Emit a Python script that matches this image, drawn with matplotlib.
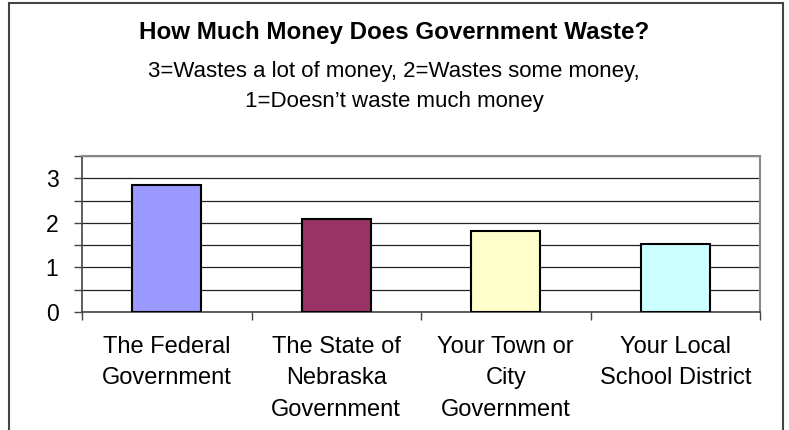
import matplotlib.pyplot as plt
from matplotlib.patches import Rectangle

plt.rcParams['font.family'] = ['Liberation Sans', 'DejaVu Sans']

# survey averages, 3 = wastes a lot, 1 = doesn't waste much
categories = ['The Federal\nGovernment', 'The State of\nNebraska\nGovernment',
              'Your Town or\nCity\nGovernment', 'Your Local\nSchool District']
scores = [2.86, 2.09, 1.82, 1.52]
bar_colors = ['#9999FF', '#993366', '#FFFFCC', '#CCFFFF']

fig = plt.figure(figsize=(7.89, 4.30), dpi=100)
ax = fig.add_axes([82 / 789, 1 - 312 / 430, (760 - 82) / 789, (312 - 156) / 430])

x = range(len(categories))
ax.bar(x, scores, width=0.41, color=bar_colors, edgecolor='black', linewidth=1.5, zorder=3)

ax.set_xlim(-0.5, len(categories) - 0.5)
ax.set_ylim(0, 3.5)
ax.set_yticks([0, 1, 2, 3])
ax.set_yticks([0.5, 1.5, 2.5, 3.5], minor=True)
ax.yaxis.grid(True, which='both', color='#222222', linewidth=0.9, zorder=0)
ax.tick_params(axis='y', which='both', direction='out', length=6, width=1,
               color='#444444', labelsize=16.5, pad=11)

# category ticks sit between the bars, labels under each bar
ax.set_xticks([i - 0.5 for i in range(len(categories) + 1)])
ax.set_xticklabels([])
ax.set_xticks(list(x), minor=True)
ax.set_xticklabels(categories, minor=True, fontsize=17, linespacing=1.56)
ax.tick_params(axis='x', which='major', direction='out', length=6, width=1, color='#444444')
ax.tick_params(axis='x', which='minor', length=0, pad=17)

for side in ['top', 'right']:
    ax.spines[side].set_color('#888888')
    ax.spines[side].set_linewidth(1.5)
for side in ['left', 'bottom']:
    ax.spines[side].set_color('#444444')
    ax.spines[side].set_linewidth(1.2)

fig.text(394 / 789, 1 - 33 / 430, 'How Much Money Does Government Waste?',
         ha='center', va='center', fontsize=17.4, fontweight='bold')
fig.text(394 / 789, 1 - 71 / 430, '3=Wastes a lot of money, 2=Wastes some money,',
         ha='center', va='center', fontsize=16)
fig.text(394 / 789, 1 - 102 / 430, '1=Doesn\u2019t waste much money',
         ha='center', va='center', fontsize=16)

# chart frame, runs off the bottom edge
fig.patches.append(Rectangle((9 / 789, -0.1), (783 - 9) / 789, 1.1 - 3 / 430,
                             transform=fig.transFigure, fill=False,
                             edgecolor='#444444', linewidth=1.5))

fig.savefig('out.png', dpi=100)
